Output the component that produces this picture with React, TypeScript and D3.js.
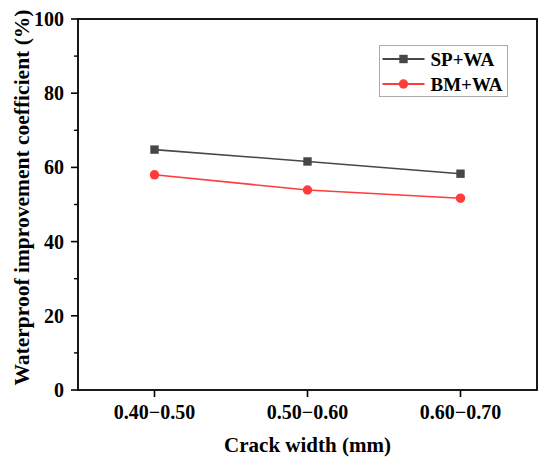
import * as d3 from "d3"

const categories = ["0.40\u22120.50", "0.50\u22120.60", "0.60\u22120.70"]
const spWa = [64.8, 61.6, 58.3]
const bmWa = [58.0, 53.9, 51.7]
const yTicks = [0, 20, 40, 60, 80, 100]
const yMinor = [10, 30, 50, 70, 90]

const W = 550
const H = 467
const m = { left: 78, right: 13, top: 19, bottom: 77 }
const font = "Liberation Serif"

export default function App() {
  const x = d3
    .scaleLinear()
    .domain([0.5, categories.length + 0.5])
    .range([m.left, W - m.right])
  const y = d3
    .scaleLinear()
    .domain([0, 100])
    .range([H - m.bottom, m.top])

  const line = d3
    .line<number>()
    .x((_, i) => x(i + 1))
    .y((d) => y(d))

  const series = [
    { name: "SP+WA", values: spWa, color: "#474747", marker: "square" },
    { name: "BM+WA", values: bmWa, color: "#ff3b3b", marker: "circle" },
  ]

  const marker = (kind: string, cx: number, cy: number, color: string, key: string) =>
    kind === "square" ? (
      <rect key={key} x={cx - 4.2} y={cy - 4.2} width={8.4} height={8.4} fill={color} />
    ) : (
      <circle key={key} cx={cx} cy={cy} r={4.7} fill={color} />
    )

  const x0 = m.left
  const x1 = W - m.right
  const y0 = H - m.bottom
  const y1 = m.top
  const txt = { fontFamily: font }

  return (
    <svg
      width={W}
      height={H}
      style={{ position: "absolute", left: 0, top: 0, background: "#fff", fontFamily: font }}
    >
      <style>{`text { font-family: "Liberation Serif", serif !important; font-weight: bold !important; }`}</style>
      {series.map((s) => (
        <g key={s.name}>
          <path d={line(s.values) ?? ""} fill="none" stroke={s.color} strokeWidth={1.6} />
          {s.values.map((v, i) => marker(s.marker, x(i + 1), y(v), s.color, `${s.name}${i}`))}
        </g>
      ))}

      <rect x={x0} y={y1} width={x1 - x0} height={y0 - y1} fill="none" stroke="#000" strokeWidth={1.8} />

      {yTicks.map((t) => (
        <g key={t}>
          <line x1={x0 - 7} x2={x0} y1={y(t)} y2={y(t)} stroke="#000" strokeWidth={1.6} />
          <text x={x0 - 14} y={y(t) + 7} textAnchor="end" fontSize={20} fontWeight="bold" style={txt}>
            {t}
          </text>
        </g>
      ))}
      {yMinor.map((t) => (
        <line key={t} x1={x0 - 4} x2={x0} y1={y(t)} y2={y(t)} stroke="#000" strokeWidth={1.4} />
      ))}

      {categories.map((c, i) => (
        <g key={c}>
          <line x1={x(i + 1)} x2={x(i + 1)} y1={y0} y2={y0 + 7} stroke="#000" strokeWidth={1.6} />
          <text x={x(i + 1)} y={y0 + 29} textAnchor="middle" fontSize={20} fontWeight="bold" style={txt}>
            {c}
          </text>
        </g>
      ))}

      <text x={(x0 + x1) / 2} y={452} textAnchor="middle" fontSize={21} fontWeight="bold" style={txt}>
        Crack width (mm)
      </text>
      <text
        transform="translate(29, 197.5) rotate(-90)"
        textAnchor="middle"
        fontSize={21.5}
        fontWeight="bold"
        style={txt}
      >
        Waterproof improvement coefficient (%)
      </text>

      <g transform="translate(379.5, 45.5)">
        <rect width={128} height={51} fill="#fff" stroke="#aaa" strokeWidth={1} />
        {series.map((s, i) => (
          <g key={s.name} transform={`translate(0, ${13.5 + i * 25})`}>
            <line x1={3} x2={45} stroke={s.color} strokeWidth={1.8} />
            {marker(s.marker, 24, 0, s.color, s.name)}
            <text x={51} y={6.5} fontSize={19} fontWeight="bold" style={txt}>
              {s.name}
            </text>
          </g>
        ))}
      </g>
    </svg>
  )
}
